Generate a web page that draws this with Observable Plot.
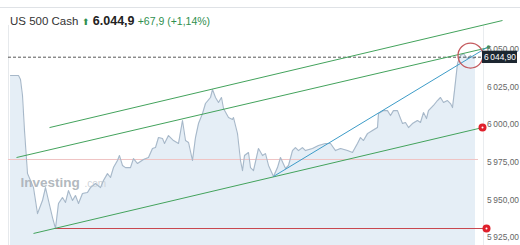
<!DOCTYPE html>
<html><head><meta charset="utf-8">
<script src="https://cdn.jsdelivr.net/npm/d3@7"></script>
<script src="https://cdn.jsdelivr.net/npm/@observablehq/plot@0.6"></script>
<style>
html,body{margin:0;padding:0;background:#fff;font-family:"Liberation Sans",Arial,sans-serif;}
#wrap{position:relative;width:520px;height:245px;overflow:hidden;}
#tb{position:absolute;left:0;top:0;width:520px;height:7px;border-bottom:1px solid #dfe2e6;}
#hdr{position:absolute;left:10px;top:14px;font-size:11.5px;color:#333;white-space:nowrap;line-height:14px;}
#hdr .p{font-weight:bold;font-size:12.5px;color:#222;}
#hdr .c{color:#2f8f4e;font-size:10.5px;}
#hdr .a{color:#2f8f4e;font-size:9px;}
</style></head><body>
<div id="wrap"><div id="chart"></div><div id="tb"></div>
<div id="hdr">US 500 Cash <span class="a">&#11014;</span> <span class="p">6.044,9</span> <span class="c">+67,9 (+1,14%)</span></div></div>
<script>
// time steps (bars) and prices
const t = [2,10,12,14,16,19,22,25,29,34,37,40,44,47,50,54,57,60,64,67,70,74,79,82,87,92,95,99,102,105,109,111,114,117,122,125,129,135,140,144,147,150,154,156,160,165,170,174,177,180,184,187,190,194,197,202,204,207,210,213,215,220,224,225,229,232,234,236,240,242,245,250,254,257,260,265,269,272,277,280,284,287,290,294,297,304,310,317,322,327,332,339,344,349,352,355,359,364,369,370,375,379,382,385,389,392,394,397,400,404,409,412,415,418,420,425,429,432,435,439,442,444,446,449,452,455,459,462,465,467];
const price = [6032.7,6032.7,6030.0,6019.4,5996.1,5967.6,5962.9,5958.2,5940.9,5949.6,5958.2,5949.6,5938.3,5931.0,5947.6,5951.6,5948.3,5956.2,5949.6,5952.9,5947.6,5954.3,5954.9,5958.2,5960.9,5958.2,5962.9,5967.5,5964.9,5971.5,5976.2,5979.5,5972.9,5971.5,5971.5,5977.5,5974.2,5976.9,5978.2,5984.2,5984.8,5991.5,5990.8,5987.5,5992.8,5989.5,5987.5,6002.8,5989.5,5988.2,5976.2,5991.5,6000.8,6007.4,6014.1,6018.1,6023.4,6018.1,6014.8,6018.1,6010.8,6004.8,6003.5,6004.8,5994.1,5976.2,5969.5,5979.5,5981.5,5971.5,5969.5,5984.2,5979.5,5980.8,5972.9,5965.6,5971.5,5978.2,5970.9,5972.9,5982.8,5984.8,5982.8,5984.8,5982.8,5984.2,5986.2,5987.5,5987.5,5982.8,5984.2,5982.8,5981.5,5987.5,5991.5,5989.5,5994.1,5996.1,5998.1,6007.4,6009.4,6009.4,6006.1,6009.4,6009.4,6004.1,6000.8,6001.5,5998.1,6000.8,6002.8,6001.5,6008.1,6004.1,6009.4,6012.8,6016.1,6018.1,6014.8,6016.1,6014.1,6011.4,6022.7,6040.7,6046.0,6047.3,6044.0,6046.0,6044.0,6044.9];
const yTicks = [5925,5950,5975,6000,6025,6050];
const lastPrice = 6044.9;
// drawn trend lines
const trendX1 = [41, 8, 25, 265];
const trendY1 = [5998.1, 5978.2, 5927.7, 5965.6];
const trendX2 = [494, 480, 474, 480];
const trendY2 = [6069.3, 6051.3, 5998.1, 6052.0];
const trendColor = ["#43a35c","#43a35c","#43a35c","#3d9cc8"];
// horizontal levels
const supportLevel = 5931.0;
const pinkLevel = 5976.9;

const data = t.map((d,i)=>({t:d, v:price[i]}));
const trends = trendX1.map((d,i)=>({x1:d, y1:trendY1[i], x2:trendX2[i], y2:trendY2[i], c:trendColor[i]}));
const loc = d3.formatLocale({decimal:",", thousands:"\u2009", grouping:[3], currency:["",""]});
const fmt = loc.format(",.2f");
const yMin = 5919.7, yMax = 6082.6;

const chart = Plot.plot({
  width: 520, height: 245,
  marginTop: 0, marginBottom: 0, marginLeft: 0, marginRight: 0,
  x: {domain: [-8, 512], axis: null},
  y: {domain: [yMin, yMax], axis: null},
  style: {fontFamily: "'Liberation Sans', Arial, sans-serif", background: "#fff"},
  marks: [
    Plot.ruleX([0], {y1: yMin, y2: 6066, stroke: "#e6e9ec"}),
    Plot.ruleX([475], {y1: yMin, y2: 6066, stroke: "#e9ecef"}),
    Plot.areaY(data, {x: "t", y1: () => yMin, y2: "v", fill: "#e5eef6"}),
    Plot.text(["Investing"], {x: 12, y: 5961.6, text: d => d, textAnchor: "start", fill: "#a9afb6", fontSize: 13.5, fontWeight: "bold", fillOpacity: 0.9}),
    Plot.text([".com"], {x: 76, y: 5960.5, text: d => d, textAnchor: "start", fill: "#cfd4d9", fontSize: 10}),
    Plot.ruleY([pinkLevel], {x1: 0, x2: 470, stroke: "#efc3c3", strokeWidth: 1}),
    Plot.line(data, {x: "t", y: "v", stroke: "#a7b8c9", strokeWidth: 1.1}),
    Plot.ruleY([lastPrice], {x1: 0, x2: 474, stroke: "#444", strokeDasharray: "3,2", strokeWidth: 0.9}),
    Plot.ruleY([supportLevel], {x1: 47, x2: 477, stroke: "#c8474f", strokeWidth: 1.2}),
    Plot.link(trends, {x1: "x1", y1: "y1", x2: "x2", y2: "y2", stroke: "c", strokeWidth: 1}),
    Plot.dot([{x: 480, y: 6051.6}], {x: "x", y: "y", r: 1.8, fill: "#43a35c"}),
    Plot.dot([{x: 462, y: 6046.0}], {x: "x", y: "y", r: 12.5, stroke: "#c45a5e", strokeWidth: 1.3, fill: "none"}),
    Plot.dot([{x: 474, y: 5998.1}, {x: 478, y: supportLevel}], {x: "x", y: "y", r: 4, fill: "#e0202c"}),
    Plot.dot([{x: 474, y: 5998.1}, {x: 478, y: supportLevel}], {x: "x", y: "y", r: 1, fill: "#fff"}),
    Plot.text(yTicks, {x: 478.5, y: d => d, text: d => fmt(d), textAnchor: "start", fill: "#666", fontSize: 8.4}),
    Plot.rect([lastPrice], {x1: 474, x2: 509, y1: d => d - 4.2, y2: d => d + 4.0, fill: "#1c2630"}),
    Plot.text([lastPrice], {x: 491.5, y: d => d, text: d => fmt(d), fill: "#fff", fontSize: 8.4, textAnchor: "middle"})
  ]
});
document.getElementById("chart").appendChild(chart);
</script></body></html>
